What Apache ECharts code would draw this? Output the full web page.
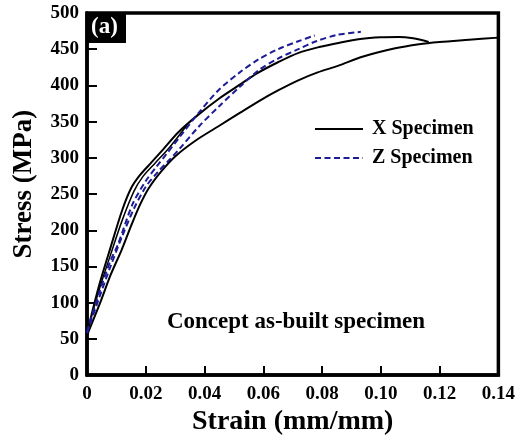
<!DOCTYPE html>
<html>
<head>
<meta charset="utf-8">
<script src="https://cdn.jsdelivr.net/npm/echarts@6/dist/echarts.min.js"></script>
<style>
html,body{margin:0;padding:0;background:#ffffff;}
#chart{width:518px;height:441px;}
</style>
</head>
<body>
<div id="chart"></div>
<script>
// ---- data ----
const xTickValues = [0, 0.02, 0.04, 0.06, 0.08, 0.10, 0.12, 0.14];
const yTickValues = [0, 50, 100, 150, 200, 250, 300, 350, 400, 450, 500];

const seriesNames = ['X Specimen', 'Z Specimen'];

// X specimen, curve 1
const x1Strain = [0, 0.004, 0.008, 0.012, 0.015, 0.018, 0.022, 0.026, 0.031, 0.038, 0.045, 0.052, 0.058, 0.065, 0.072, 0.079, 0.086, 0.093, 0.100, 0.106, 0.111, 0.1163];
const x1Stress = [58, 122, 176, 228, 258, 276, 294, 312, 335, 360, 382, 401, 417, 432, 445, 453, 459, 464, 466.5, 467, 465, 460];

// X specimen, curve 1b (runs next to curve 1 in the elastic part)
const x1bStrain = [0, 0.004, 0.008, 0.012, 0.016, 0.019, 0.023, 0.028, 0.034];
const x1bStress = [58, 116, 166, 214, 254, 274, 292, 314, 345];

// X specimen, curve 2
const x2Strain = [0, 0.0044, 0.008, 0.0118, 0.015, 0.0179, 0.021, 0.0252, 0.030, 0.037, 0.0449, 0.052, 0.0584, 0.065, 0.0719, 0.0785, 0.0854, 0.094, 0.1045, 0.113, 0.120, 0.130, 0.140];
const x2Stress = [55, 99, 138, 173, 206, 234, 258, 281, 302, 324, 344, 362, 378, 393, 407, 418, 427, 440, 451, 457, 460, 463, 466];

// Z specimen, curve 1
const z1Strain = [0, 0.004, 0.008, 0.0105, 0.0155, 0.020, 0.0235, 0.027, 0.0314, 0.038, 0.0449, 0.052, 0.0584, 0.065, 0.0719, 0.0775];
const z1Stress = [60, 112, 158, 180, 236, 268, 287, 305, 328, 362, 394, 418, 436, 450, 461, 469];

// Z specimen, curve 2
const z2Strain = [0, 0.004, 0.008, 0.012, 0.016, 0.020, 0.024, 0.028, 0.0314, 0.038, 0.0449, 0.052, 0.0584, 0.065, 0.0719, 0.078, 0.0854, 0.0932];
const z2Stress = [58, 105, 150, 192, 230, 260, 280, 297, 312, 343, 371, 398, 421, 437, 450, 461, 470, 474];

const panelLabel = '(a)';
const noteText = 'Concept as-built specimen';
const xTitle = 'Strain (mm/mm)';
const yTitle = 'Stress (MPa)';

// ---- build ----
const FONT = '"Liberation Serif", "Times New Roman", serif';
function zip(a, b) { return a.map((v, i) => [v, b[i]]); }

const solidStyle = { color: '#000000', width: 2, type: 'solid' };
const dashStyle = { color: '#1c1c96', width: 2, type: [6, 3.5] };

function lineSeries(name, xs, ys, style) {
  return {
    type: 'line', name: name, data: zip(xs, ys),
    showSymbol: false, symbol: 'none', smooth: 0.3,
    lineStyle: style, itemStyle: { color: style.color },
    emphasis: { disabled: true }, animation: false, z: 3
  };
}

const chart = echarts.init(document.getElementById('chart'), null, { renderer: 'canvas' });
chart.setOption({
  animation: false,
  backgroundColor: '#ffffff',
  grid: { left: 87, right: 16, top: 13, bottom: 58, show: true, borderColor: '#000', borderWidth: 3.5, backgroundColor: 'transparent' },
  xAxis: {
    type: 'value', min: 0, max: 0.14, interval: 0.02,
    name: xTitle, nameLocation: 'middle', nameGap: 31,
    nameTextStyle: { fontFamily: FONT, fontWeight: 'bold', fontSize: 28, color: '#000' },
    axisLine: { show: true, lineStyle: { color: '#000', width: 3.5 } },
    axisTick: { show: true, inside: true, length: 9, lineStyle: { color: '#000', width: 2 },
      customValues: xTickValues.slice(1, -1) },
    axisLabel: { margin: 9, fontFamily: FONT, fontWeight: 'bold', fontSize: 19, color: '#000',
      customValues: xTickValues,
      formatter: v => (v === 0 ? '0' : v.toFixed(2)) },
    splitLine: { show: false }
  },
  yAxis: {
    type: 'value', min: 0, max: 500, interval: 50,
    name: yTitle, nameLocation: 'middle', nameGap: 49,
    nameTextStyle: { fontFamily: FONT, fontWeight: 'bold', fontSize: 27, color: '#000', padding: [0, 0, 0, 20] },
    axisLine: { show: true, lineStyle: { color: '#000', width: 3.5 } },
    axisTick: { show: true, inside: true, length: 10, lineStyle: { color: '#000', width: 2 },
      customValues: yTickValues.slice(1, -1) },
    axisLabel: { margin: 8, fontFamily: FONT, fontWeight: 'bold', fontSize: 19, color: '#000',
      customValues: yTickValues },
    splitLine: { show: false }
  },
  legend: {
    data: seriesNames, orient: 'vertical', left: 309, top: 114,
    itemWidth: 48, itemHeight: 14, itemGap: 9,
    selectedMode: false,
    itemStyle: { color: 'transparent', borderColor: 'transparent', borderWidth: 0, opacity: 0 },
    textStyle: { fontFamily: FONT, fontWeight: 'bold', fontSize: 20, color: '#000', padding: [0, 0, 0, 4] }
  },
  series: [
    lineSeries(seriesNames[0], x1Strain, x1Stress, solidStyle),
    lineSeries(seriesNames[0], x1bStrain, x1bStress, { color: '#000000', width: 1.5, type: 'solid' }),
    lineSeries(seriesNames[0], x2Strain, x2Stress, solidStyle),
    lineSeries(seriesNames[1], z1Strain, z1Stress, dashStyle),
    lineSeries(seriesNames[1], z2Strain, z2Stress, dashStyle)
  ],
  graphic: [
    { type: 'rect', left: 87, top: 13, shape: { width: 39, height: 30 }, style: { fill: '#000' }, z: 10 },
    { type: 'text', left: 91, top: 16, z: 11,
      style: { text: panelLabel, fill: '#fff', font: 'bold 23px ' + FONT } },
    { type: 'text', x: 296, y: 322, z: 11,
      style: { text: noteText, fill: '#000', font: 'bold 23px ' + FONT, align: 'center', verticalAlign: 'middle' } }
  ]
});
</script>
</body>
</html>
